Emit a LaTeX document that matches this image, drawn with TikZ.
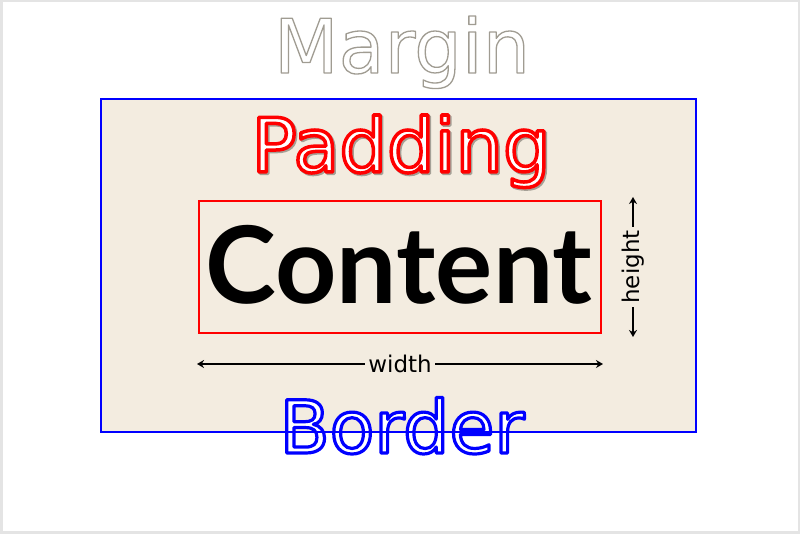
\documentclass[tikz,border=0pt]{standalone}
\usepackage{fontspec}
\setmainfont{DejaVu Sans}
\newfontfamily\contentfont{Lato}
\usetikzlibrary{arrows.meta}
\definecolor{beige}{RGB}{243,236,224}
\definecolor{framegray}{RGB}{228,228,228}
\definecolor{margline}{RGB}{160,156,146}
\definecolor{shadowgray}{RGB}{165,160,150}
% outlined text: #1 = stroke rgb (pdf operands), #2 = line width, #3 = fill colour, #4 = text
\newcommand{\outlinedword}[4]{{\color{#3}\special{pdf:code q 2 Tr #2 w 1 j #1 RG}#4\special{pdf:code Q}}}
\tikzset{
  bigword/.style={anchor=base, inner sep=0pt, font=\fontsize{75}{80}\selectfont},
  dimline/.style={line width=1.8pt, {Stealth[length=7pt,width=8pt]}-{Stealth[length=7pt,width=8pt]}},
  dimlabel/.style={fill=beige, inner xsep=3pt, inner ysep=1pt, font=\fontsize{23}{26}\selectfont}
}
\begin{document}
\begin{tikzpicture}[x=1pt,y=1pt]
\useasboundingbox (0,0) rectangle (800,534);
\fill[white] (0,0) rectangle (800,534);
\draw[framegray, line width=2.5pt] (1.25,1.25) rectangle (798.75,532.75);
% padding area
\fill[beige] (101,102) rectangle (696,435);
% content box
\draw[red, line width=1.5pt] (199,201) rectangle (601,333);
% texts
\node[bigword] (margin) at (402,461) {\outlinedword{0.627 0.612 0.573}{1.3}{white}{Margin}};
\node[bigword] (padshadow) at (402.5,360.5) {\outlinedword{0.647 0.627 0.588}{3.5}{shadowgray}{Padding}};
\node[bigword] (padding) at (401,362) {\outlinedword{1 0 0}{3.5}{white}{Padding}};
\node[anchor=base, inner sep=0pt, font=\contentfont\bfseries\fontsize{107}{110}\selectfont] (content) at (399,230) {Content};
\node[bigword, font=\fontsize{73}{80}\selectfont] (border) at (402,81) {\outlinedword{0 0 1}{3.2}{white}{Border}};
% border line drawn over text
\draw[blue, line width=2pt] (101,102) rectangle (696,435);
% dimensions
\coordinate (wl) at (197,170);
\coordinate (wr) at (603,170);
\draw[dimline] (wl) -- node[dimlabel] (wlab) {width} (wr);
\coordinate (hb) at (633,197);
\coordinate (ht) at (633,337);
\draw[dimline] (hb) -- node[dimlabel, rotate=90] (hlab) {height} (ht);
\end{tikzpicture}
\end{document}
